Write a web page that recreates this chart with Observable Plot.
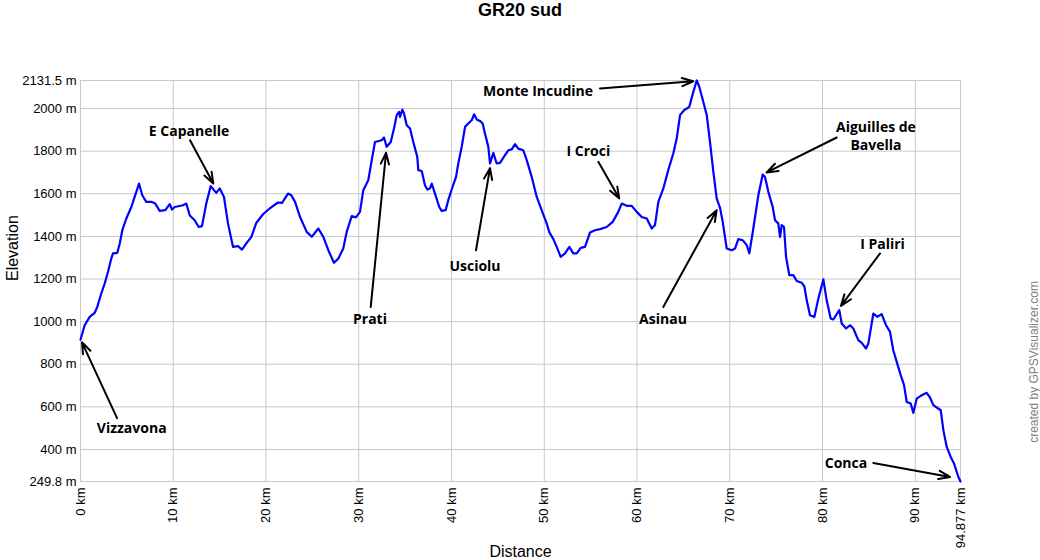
<!DOCTYPE html>
<html>
<head>
<meta charset="utf-8">
<script src="https://cdn.jsdelivr.net/npm/d3@7"></script>
<script src="https://cdn.jsdelivr.net/npm/@observablehq/plot@0.6"></script>
<style>
  html, body { margin: 0; padding: 0; background: #fff; }
  #title { width: 1040px; height: 30px; line-height: 30px; text-align: center;
           font: bold 18px "Liberation Sans", Arial, sans-serif; color: #000; }
</style>
</head>
<body>
<div id="title">GR20 sud</div>
<div id="chart"></div>
<script>
// Distance along the trail (km)
const distanceKm = [0, 0.45, 0.99, 1.53, 1.81, 2.24, 2.61, 2.96, 3.32, 3.50, 3.97, 4.23, 4.51, 4.94, 5.48, 5.84, 6.31, 6.66, 7.09, 7.63,
  8.06, 8.54, 9.14, 9.62, 9.87, 10.16, 11.05, 11.41, 11.77, 12.31, 12.74, 13.10, 13.56, 14.04, 14.39, 14.64, 15.01, 15.47, 15.90, 16.44,
  16.98, 17.41, 17.88, 18.42, 18.95, 19.68, 20.40, 21.29, 21.73, 22.37, 22.73, 23.13, 23.67, 24.39, 24.93, 25.64, 26.18, 26.72, 27.33, 27.80,
  28.33, 28.70, 29.24, 29.70, 30.13, 30.49, 31.03, 31.40, 31.75, 32.47, 32.72, 33.01, 33.45, 33.80, 34.09, 34.34, 34.45, 34.70, 34.88, 35.17,
  35.53, 35.88, 36.31, 36.42, 36.79, 37.14, 37.39, 37.68, 37.87, 38.22, 38.68, 38.94, 39.37, 39.65, 40.02, 40.49, 40.73, 41.10, 41.46, 41.81,
  42.18, 42.43, 42.72, 43.07, 43.36, 43.61, 43.97, 44.15, 44.51, 44.87, 45.23, 45.77, 46.12, 46.49, 46.85, 47.20, 47.74, 48.11, 48.65, 49.19,
  49.72, 50.26, 50.54, 50.98, 51.34, 51.77, 52.24, 52.70, 53.13, 53.50, 53.93, 54.39, 54.93, 55.47, 56.01, 56.73, 57.38, 57.98, 58.35, 58.95,
  59.43, 59.97, 60.51, 61.05, 61.59, 61.94, 62.30, 62.84, 63.37, 63.91, 64.28, 64.64, 65.07, 65.64, 66.07, 66.44, 66.72, 67.15, 67.52, 67.87,
  68.23, 68.59, 68.95, 69.24, 69.67, 70.21, 70.57, 70.92, 71.40, 71.83, 72.11, 72.54, 73.08, 73.55, 73.80, 74.16, 74.63, 74.88, 75.23, 75.42,
  75.60, 75.85, 76.07, 76.42, 76.85, 77.22, 77.76, 78.04, 78.30, 78.65, 79.12, 79.55, 80.09, 80.45, 80.88, 81.16, 81.81, 82.07, 82.54, 82.97,
  83.32, 83.86, 84.23, 84.69, 84.94, 85.48, 85.91, 86.38, 86.85, 87.28, 87.63, 88.00, 88.43, 88.79, 89.08, 89.51, 89.79, 90.16, 90.70, 91.23,
  91.59, 91.95, 92.31, 92.75, 93.03, 93.39, 93.82, 94.18, 94.65, 94.877];

// Elevation (m)
const elevationM = [915, 983, 1022, 1041, 1069, 1132, 1179, 1233, 1296, 1320, 1323, 1367, 1429, 1484, 1538, 1585, 1648, 1593, 1562, 1562,
  1554, 1520, 1523, 1551, 1526, 1538, 1546, 1554, 1499, 1476, 1444, 1448, 1554, 1636, 1617, 1604, 1625, 1585, 1461, 1351,
  1354, 1338, 1367, 1398, 1463, 1504, 1531, 1559, 1557, 1601, 1593, 1562, 1491, 1421, 1398, 1437, 1398, 1335, 1276, 1296,
  1343, 1421, 1495, 1489, 1515, 1617, 1664, 1758, 1843, 1851, 1864, 1820, 1843, 1906, 1969, 1984, 1961, 1995, 1977, 1922,
  1906, 1843, 1773, 1711, 1707, 1640, 1620, 1625, 1648, 1601, 1538, 1520, 1523, 1570, 1620, 1679, 1742, 1820, 1914, 1930,
  1945, 1973, 1949, 1942, 1930, 1883, 1820, 1742, 1792, 1742, 1745, 1781, 1804, 1808, 1833, 1812, 1804, 1758, 1679, 1585,
  1523, 1461, 1420, 1387, 1351, 1304, 1320, 1351, 1320, 1320, 1346, 1351, 1418, 1429, 1434, 1444, 1468, 1515, 1554, 1543,
  1543, 1515, 1491, 1484, 1437, 1453, 1562, 1625, 1711, 1789, 1859, 1969, 1992, 2008, 2078, 2131.5, 2101, 2031, 1969, 1843,
  1703, 1578, 1534, 1468, 1343, 1335, 1343, 1387, 1382, 1359, 1320, 1437, 1593, 1690, 1679, 1609, 1538, 1476, 1461, 1398,
  1453, 1444, 1304, 1218, 1218, 1191, 1182, 1166, 1100, 1030, 1022, 1108, 1198, 1100, 1015, 1010, 1054, 991, 968, 983,
  968, 913, 900, 874, 897, 1038, 1022, 1035, 983, 952, 866, 811, 749, 702, 623, 616, 572, 639, 655, 666,
  644, 608, 597, 584, 491, 412, 365, 334, 271, 249.8];

// Axis ticks
const xTicks = [0, 10, 20, 30, 40, 50, 60, 70, 80, 90, 94.877];
const yTicks = [249.8, 400, 600, 800, 1000, 1200, 1400, 1600, 1800, 2000, 2131.5];

// Annotations: label, label position (km, m), arrow from (km, m) to (km, m)
const labelNames = ["Vizzavona", "E Capanelle", "Prati", "Usciolu", "Monte Incudine", "I Croci", "Asinau", "Aiguilles de\nBavella", "I Paliri", "Conca"];
const labelKm    = [5.52, 11.70, 31.21, 42.53, 49.33, 54.75, 62.80, 85.76, 86.47, 82.53];
const labelM     = [505, 1898, 1016, 1265, 2087, 1804, 1016, 1875, 1368, 340];
const arrowFromKm = [3.94, 11.81, 31.29, 42.64, 56.01, 55.83, 62.83, 81.53, 86.20, 85.48];
const arrowFromM  = [547, 1851, 1069, 1335, 2094, 1750, 1069, 1864, 1320, 337];
const arrowToKm   = [0.16, 14.32, 32.94, 44.15, 66.07, 58.09, 68.59, 73.98, 81.99, 93.75];
const arrowToM    = [903, 1648, 1792, 1720, 2128, 1578, 1523, 1700, 1074, 271];

const profile = distanceKm.map((d, i) => ({km: d, m: elevationM[i]}));
const labels = labelNames.map((t, i) => ({text: t, km: labelKm[i], m: labelM[i]}));
const arrows = labelNames.map((t, i) => ({x1: arrowFromKm[i], y1: arrowFromM[i], x2: arrowToKm[i], y2: arrowToM[i]}));

const font = '"Liberation Sans", Arial, sans-serif';

const chart = Plot.plot({
  width: 1040,
  height: 530,
  marginTop: 50,
  marginBottom: 79,
  marginLeft: 80,
  marginRight: 80,
  style: {fontFamily: font, background: "#fff", color: "#000", overflow: "visible"},
  x: {domain: [0, 94.877]},
  y: {domain: [249.8, 2131.5]},
  marks: [
    Plot.gridX(xTicks, {stroke: "#c8c8c8", strokeOpacity: 1, strokeWidth: 1}),
    Plot.gridY(yTicks, {stroke: "#c8c8c8", strokeOpacity: 1, strokeWidth: 1}),
    Plot.axisY(yTicks, {tickSize: 0, tickPadding: 4, fontSize: 13, tickFormat: d => `${d} m`, label: null, fill: "#000"}),
    Plot.axisX(xTicks, {tickSize: 0, tickPadding: 6, tickRotate: -90, fontSize: 13, tickFormat: d => `${d} km`, label: null, fill: "#000"}),
    Plot.line(profile, {x: "km", y: "m", stroke: "#0000ff", strokeWidth: 2.2, strokeLinejoin: "round"}),
    Plot.arrow(arrows, {x1: "x1", y1: "y1", x2: "x2", y2: "y2", stroke: "#000", strokeWidth: 2, headLength: 9, headAngle: 40}),
    Plot.text(labels, {x: "km", y: "m", text: "text", fontFamily: '"Open Sans", sans-serif', fontWeight: "bold",
      fontSize: 14, fill: "#000", textAnchor: "middle", lineAnchor: "middle", lineHeight: 1.3}),
    Plot.text(["Elevation"], {frameAnchor: "left", dx: -68, rotate: -90, fontSize: 16, fill: "#000", fontFamily: font}),
    Plot.text(["Distance"], {frameAnchor: "bottom", dy: 75, fontSize: 16, fill: "#000", fontFamily: font}),
    Plot.text(["created by GPSVisualizer.com"], {frameAnchor: "right", dx: 74, rotate: -90, fontSize: 12, fill: "#808080", fontFamily: font})
  ]
});
document.getElementById("chart").appendChild(chart);
</script>
</body>
</html>
